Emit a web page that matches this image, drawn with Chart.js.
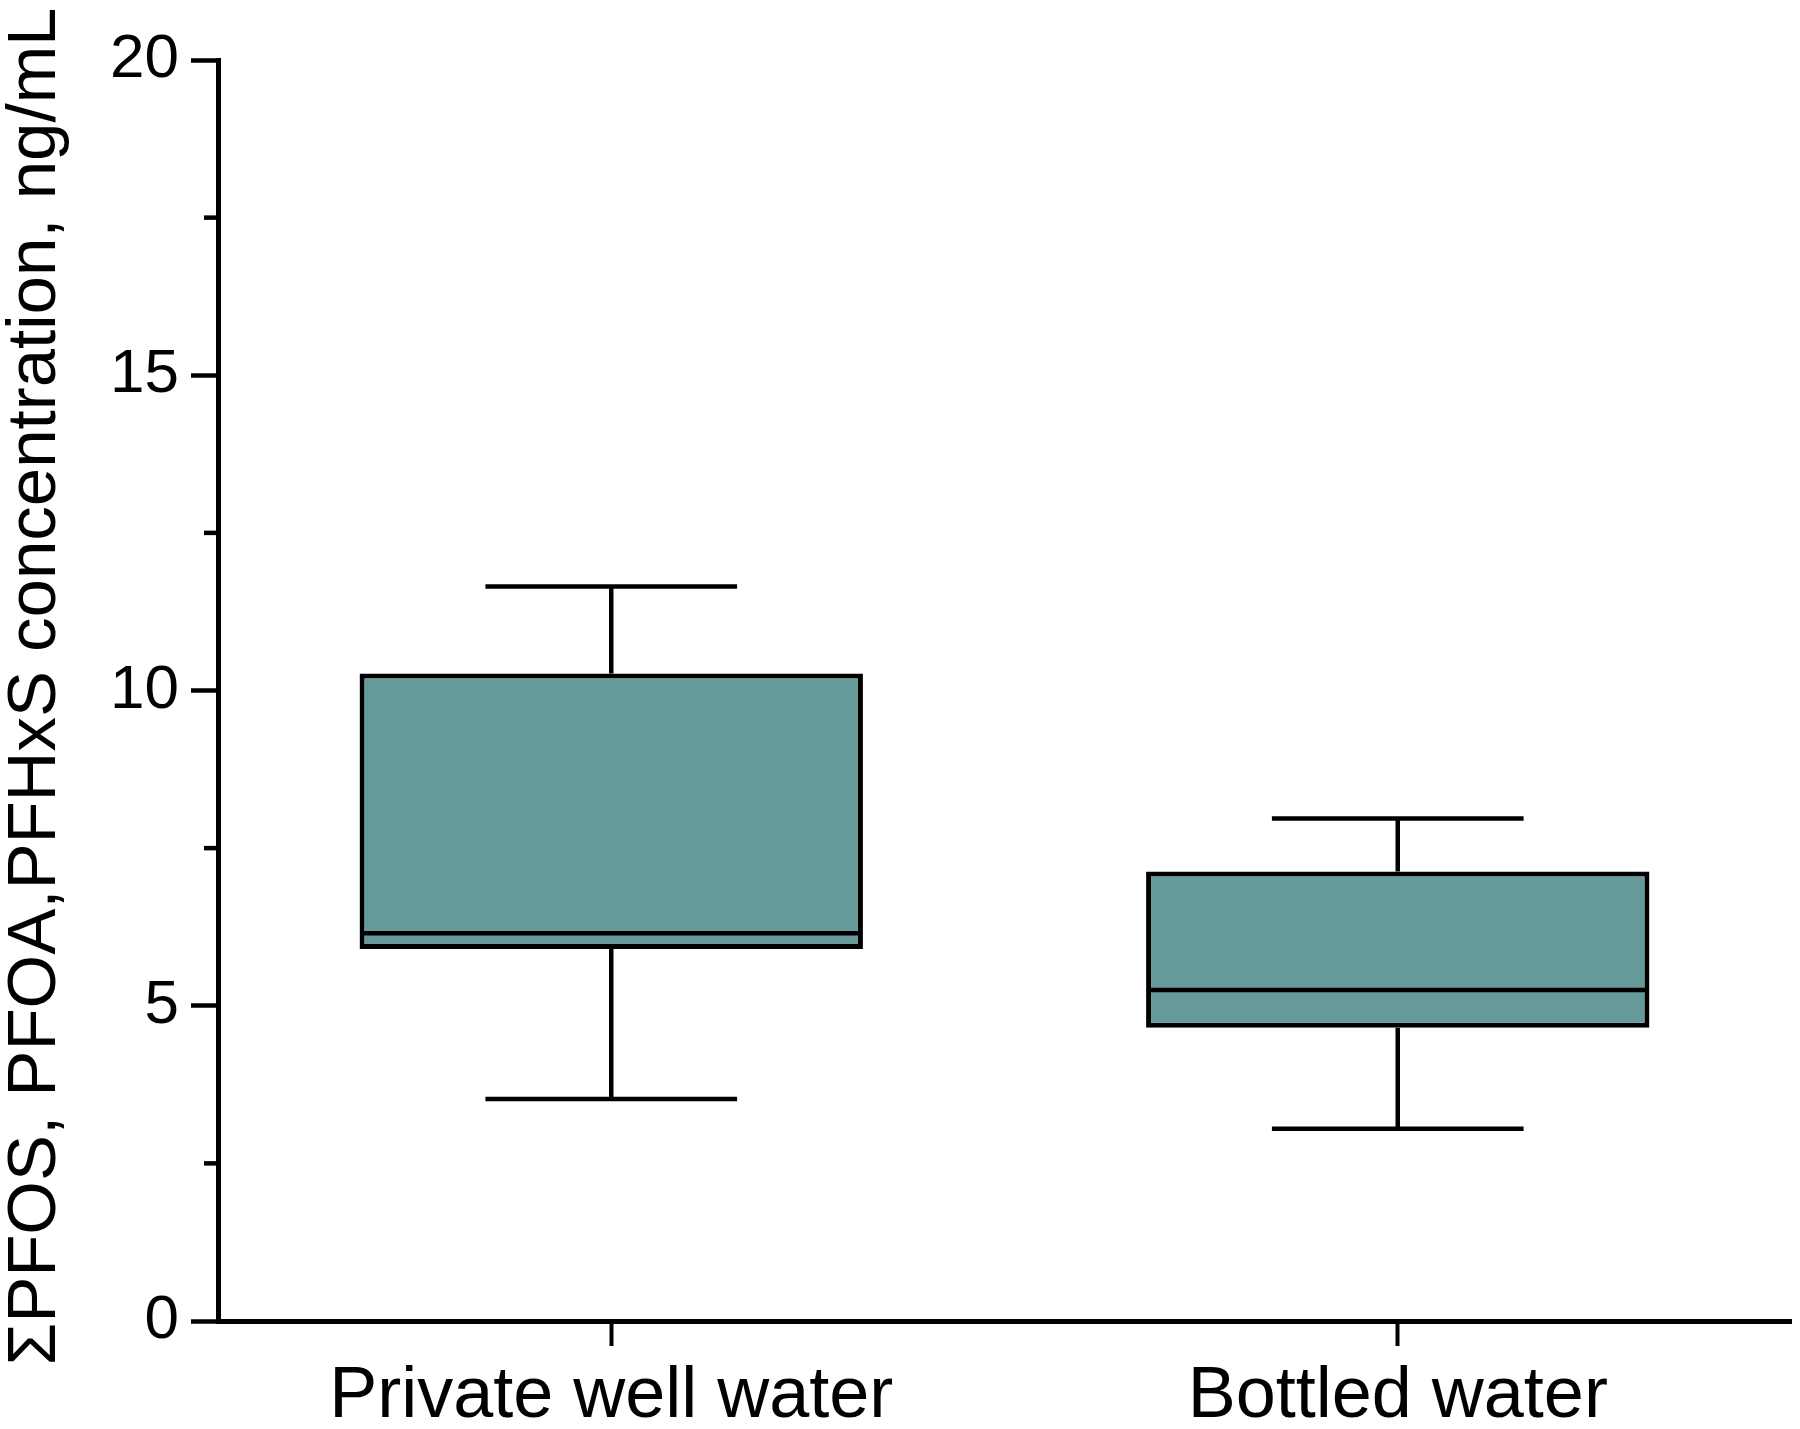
<!DOCTYPE html>
<html>
<head>
<meta charset="utf-8">
<script src="https://cdn.jsdelivr.net/npm/chart.js@4/dist/chart.umd.min.js"></script>
<style>
  html, body { margin: 0; padding: 0; background: #ffffff; }
  #wrap { width: 1800px; height: 1429px; position: relative; }
</style>
</head>
<body>
<div id="wrap"><canvas id="c"></canvas></div>
<script>
// ---- data ----
const categories = ['Private well water', 'Bottled water'];
const whiskerMin = [3.52, 3.05];
const q1Values = [5.90, 4.65];
const medianValues = [6.15, 5.25];
const q3Values = [10.27, 7.13];
const whiskerMax = [11.65, 7.97];
const yMin = 0, yMax = 20, yMajorStep = 5, yMinorStep = 2.5;
const yTitle = 'ΣPFOS, PFOA,PFHxS concentration, ng/mL';

const FONT = '"Liberation Sans", Arial, Helvetica, sans-serif';
const boxFill = 'rgb(102,153,153)';

const boxData = categories.map((c, i) => [q1Values[i], q3Values[i]]);

const boxPlugin = {
  id: 'boxExtras',
  afterDatasetsDraw(chart) {
    const ctx = chart.ctx;
    const xs = chart.scales.x, ys = chart.scales.y;
    const meta = chart.getDatasetMeta(0);
    ctx.save();
    ctx.strokeStyle = '#000';
    ctx.lineCap = 'butt';
    categories.forEach((c, i) => {
      const x = xs.getPixelForValue(i);
      const bw = meta.data[i].width;
      const half = bw / 2;
      const capHalf = bw / 4;
      // median
      ctx.lineWidth = 4.5;
      const ym = ys.getPixelForValue(medianValues[i]);
      ctx.beginPath(); ctx.moveTo(x - half + 2, ym); ctx.lineTo(x + half - 2, ym); ctx.stroke();
      // whiskers
      ctx.lineWidth = 4.5;
      const yq3 = ys.getPixelForValue(q3Values[i]);
      const yq1 = ys.getPixelForValue(q1Values[i]);
      const yMaxP = ys.getPixelForValue(whiskerMax[i]);
      const yMinP = ys.getPixelForValue(whiskerMin[i]);
      ctx.beginPath();
      ctx.moveTo(x, yq3); ctx.lineTo(x, yMaxP);
      ctx.moveTo(x - capHalf, yMaxP); ctx.lineTo(x + capHalf, yMaxP);
      ctx.moveTo(x, yq1); ctx.lineTo(x, yMinP);
      ctx.moveTo(x - capHalf, yMinP); ctx.lineTo(x + capHalf, yMinP);
      ctx.stroke();
    });
    // minor ticks on y axis
    ctx.lineWidth = 4.5;
    const left = ys.right;
    for (let v = yMin + yMinorStep; v < yMax; v += yMinorStep) {
      if (Math.abs(v / yMajorStep - Math.round(v / yMajorStep)) < 1e-6) continue;
      const py = ys.getPixelForValue(v);
      ctx.beginPath(); ctx.moveTo(left - 14, py); ctx.lineTo(left, py); ctx.stroke();
    }
    // y title (drawn without width squeezing)
    ctx.fillStyle = '#000';
    ctx.font = '69px ' + FONT;
    ctx.textAlign = 'center';
    ctx.textBaseline = 'middle';
    ctx.translate(36, (chart.chartArea.top + chart.chartArea.bottom) / 2 - 4);
    ctx.rotate(-Math.PI / 2);
    ctx.fillText(yTitle, 0, 0);
    ctx.restore();
  }
};

new Chart(document.getElementById('c'), {
  type: 'bar',
  data: {
    labels: categories,
    datasets: [{
      data: boxData,
      backgroundColor: boxFill,
      borderColor: '#000',
      borderWidth: 5,
      borderSkipped: false,
      barPercentage: 0.64,
      categoryPercentage: 1.0
    }]
  },
  options: {
    responsive: true,
    maintainAspectRatio: false,
    animation: false,
    layout: { padding: { top: 60, right: 9, bottom: 0, left: 0 } },
    plugins: { legend: { display: false }, tooltip: { enabled: false }, title: { display: false } },
    scales: {
      x: {
        type: 'category',
        offset: true,
        grid: { display: true, offset: false, drawOnChartArea: false, drawTicks: true, tickLength: 25, tickWidth: 4, tickColor: '#000' },
        border: { display: true, color: '#000', width: 5 },
        ticks: { color: '#000', font: { family: FONT, size: 72 }, padding: 8, maxRotation: 0, autoSkip: false },
        afterFit(scale) { scale.height = 108; }
      },
      y: {
        type: 'linear',
        min: yMin, max: yMax,
        grid: { display: true, drawOnChartArea: false, drawTicks: true, tickLength: 27, tickWidth: 4.5, tickColor: '#000' },
        border: { display: true, color: '#000', width: 5 },
        ticks: { stepSize: yMajorStep, color: '#000', font: { family: FONT, size: 62 }, padding: 12 },
        afterFit(scale) { scale.width = 218; }
      }
    }
  },
  plugins: [boxPlugin]
});
</script>
</body>
</html>
